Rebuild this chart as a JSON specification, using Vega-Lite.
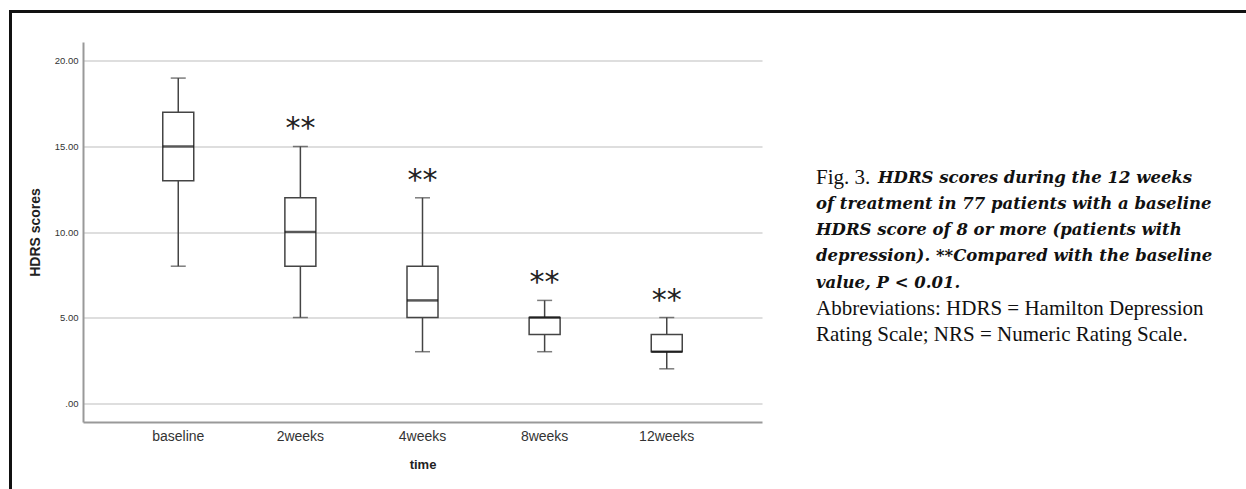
{
  "$schema": "https://vega.github.io/schema/vega-lite/v6.json",
  "width": 1240.5,
  "height": 482.5,
  "autosize": {"type": "none"},
  "padding": {"left": 10.5, "top": 11.5, "right": -5, "bottom": -5},
  "background": "white",
  "config": {"view": {"stroke": "#111", "strokeWidth": 3}, "font": "Liberation Sans"},
  "datasets": {
    "box": [
      {"time": "baseline", "min": 8, "q1": 13, "median": 15, "q3": 17, "max": 19, "sig": ""},
      {"time": "2weeks", "min": 5, "q1": 8, "median": 10, "q3": 12, "max": 15, "sig": "**"},
      {"time": "4weeks", "min": 3, "q1": 5, "median": 6, "q3": 8, "max": 12, "sig": "**"},
      {"time": "8weeks", "min": 3, "q1": 4, "median": 5, "q3": 5, "max": 6, "sig": "**"},
      {"time": "12weeks", "min": 2, "q1": 3, "median": 3, "q3": 4, "max": 5, "sig": "**"}
    ],
    "caption": [
      {"line": 1, "kind": "fig", "text": "Fig. 3."},
      {"line": 1, "kind": "title", "text": "HDRS scores during the 12 weeks"},
      {"line": 2, "kind": "title", "text": "of treatment in 77 patients with a baseline"},
      {"line": 3, "kind": "title", "text": "HDRS score of 8 or more (patients with"},
      {"line": 4, "kind": "title", "text": "depression).  **Compared with the baseline"},
      {"line": 5, "kind": "title", "text": "value, P < 0.01."},
      {"line": 6, "kind": "note", "text": "Abbreviations: HDRS = Hamilton Depression"},
      {"line": 7, "kind": "note", "text": "Rating Scale; NRS = Numeric Rating Scale."}
    ]
  },
  "layer": [
    {
      "data": {"name": "box"},
      "encoding": {
        "x": {
          "field": "time", "type": "nominal", "sort": null,
          "scale": {"range": [72.5, 751.5], "paddingInner": 0.5, "paddingOuter": 0.53},
          "axis": {
            "orient": "bottom", "offset": -72, "labelAngle": 0, "ticks": false,
            "domainColor": "#999", "domainWidth": 2, "grid": false,
            "labelFontSize": 14, "labelColor": "#333", "labelPadding": 7,
            "title": "time", "titleFontSize": 13, "titleFontWeight": "bold", "titleColor": "#222", "titlePadding": 15
          }
        }
      },
      "layer": [
        {
          "mark": {"type": "rule", "color": "#444", "strokeWidth": 1.5},
          "encoding": {
            "y": {
              "field": "min", "type": "quantitative", "title": "HDRS scores",
              "scale": {"domain": [-1.11, 21.11], "range": [410.5, 30.5], "nice": false, "zero": false},
              "axis": {
                "orient": "left", "offset": -72.5, "values": [0, 5, 10, 15, 20],
                "labelExpr": "datum.value === 0 ? '.00' : format(datum.value, '.2f')",
                "grid": true, "gridColor": "#d3d3d3", "gridWidth": 1.5,
                "domainColor": "#999", "domainWidth": 2, "ticks": false,
                "labelPadding": 5, "labelFontSize": 9.5, "labelColor": "#333",
                "titleFontSize": 14, "titleFontWeight": "bold", "titleColor": "#222", "titlePadding": 12
              }
            },
            "y2": {"field": "max"}
          }
        },
        {
          "mark": {"type": "tick", "size": 15, "thickness": 1.5, "color": "#444"},
          "encoding": {"y": {"field": "min", "type": "quantitative", "title": "HDRS scores"}}
        },
        {
          "mark": {"type": "tick", "size": 15, "thickness": 1.5, "color": "#444"},
          "encoding": {"y": {"field": "max", "type": "quantitative", "title": "HDRS scores"}}
        },
        {
          "mark": {"type": "bar", "size": 31, "fill": "white", "stroke": "#444", "strokeWidth": 1.5},
          "encoding": {
            "y": {"field": "q1", "type": "quantitative", "title": "HDRS scores"},
            "y2": {"field": "q3"}
          }
        },
        {
          "mark": {"type": "tick", "size": 31, "thickness": 2.5, "color": "#111"},
          "encoding": {"y": {"field": "median", "type": "quantitative", "title": "HDRS scores"}}
        },
        {
          "mark": {"type": "text", "font": "DejaVu Sans", "fontSize": 30, "dy": -8, "baseline": "alphabetic", "color": "#222"},
          "encoding": {
            "y": {"field": "max", "type": "quantitative", "title": "HDRS scores"},
            "text": {"field": "sig"}
          }
        }
      ]
    },
    {
      "data": {"name": "caption"},
      "encoding": {
        "x": {"datum": 0, "type": "quantitative", "scale": {"domain": [0, 1], "range": [805.5, 1240]}, "axis": null},
        "y": {"field": "line", "type": "quantitative", "scale": {"domain": [1, 7], "range": [166, 323.8]}, "axis": null},
        "text": {"field": "text"}
      },
      "layer": [
        {
          "transform": [{"filter": "datum.kind != 'title'"}],
          "mark": {"type": "text", "align": "left", "baseline": "middle", "font": "Liberation Serif", "fontSize": 21, "color": "#111"}
        },
        {
          "transform": [{"filter": "datum.kind == 'title' && datum.line == 1"}],
          "mark": {"type": "text", "align": "left", "baseline": "middle", "font": "DejaVu Serif", "fontSize": 16.5, "fontStyle": "italic", "fontWeight": "bold", "dx": 62, "color": "#111"}
        },
        {
          "transform": [{"filter": "datum.kind == 'title' && datum.line > 1"}],
          "mark": {"type": "text", "align": "left", "baseline": "middle", "font": "DejaVu Serif", "fontSize": 16.5, "fontStyle": "italic", "fontWeight": "bold", "color": "#111"}
        }
      ]
    }
  ],
  "resolve": {"scale": {"x": "independent", "y": "independent"}}
}
